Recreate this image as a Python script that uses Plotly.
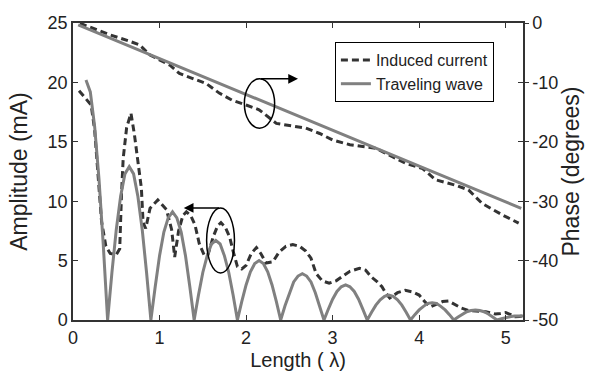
import plotly.graph_objects as go

# ---- data ----
tw_x = [0.15, 0.20, 0.25, 0.30, 0.35, 0.40, 0.45, 0.50, 0.55, 0.60,
        0.65, 0.70, 0.75, 0.80, 0.85, 0.90, 0.95, 1.00, 1.05, 1.10,
        1.15, 1.20, 1.25, 1.30, 1.35, 1.40, 1.45, 1.50, 1.55, 1.60,
        1.65, 1.70, 1.75, 1.80, 1.85, 1.90, 1.95, 2.00, 2.05, 2.10,
        2.15, 2.20, 2.25, 2.30, 2.35, 2.40, 2.45, 2.50, 2.55, 2.60,
        2.65, 2.70, 2.75, 2.80, 2.85, 2.90, 2.95, 3.00, 3.05, 3.10,
        3.15, 3.20, 3.25, 3.30, 3.35, 3.40, 3.45, 3.50, 3.55, 3.60,
        3.65, 3.70, 3.75, 3.80, 3.85, 3.90, 3.95, 4.00, 4.05, 4.10,
        4.15, 4.20, 4.25, 4.30, 4.35, 4.40, 4.45, 4.50, 4.55, 4.60,
        4.65, 4.70, 4.75, 4.80, 4.85, 4.90, 4.95, 5.00, 5.05, 5.10,
        5.15, 5.20]
tw_amp = [20.2, 19.2, 16.3, 11.9, 6.3, 0.0, 4.0, 7.6, 10.4, 12.3,
          12.9, 12.3, 10.4, 7.6, 4.0, 0.0, 2.8, 5.4, 7.4, 8.6,
          9.1, 8.6, 7.4, 5.4, 2.8, 0.0, 2.1, 4.0, 5.4, 6.4,
          6.7, 6.4, 5.4, 4.0, 2.1, 0.0, 1.55, 2.95, 4.05, 4.75,
          5.0, 4.75, 4.05, 2.95, 1.55, 0.0, 1.2, 2.3, 3.2, 3.7,
          3.9, 3.7, 3.2, 2.3, 1.2, 0.0, 0.9, 1.75, 2.4, 2.8,
          2.95, 2.8, 2.4, 1.75, 0.9, 0.0, 0.65, 1.25, 1.7, 2.0,
          2.1, 2.0, 1.7, 1.25, 0.65, 0.0, 0.45, 0.85, 1.15, 1.4,
          1.45, 1.4, 1.15, 0.85, 0.45, 0.0, 0.25, 0.5, 0.7, 0.8,
          0.85, 0.8, 0.7, 0.5, 0.25, 0.0, 0.1, 0.2, 0.28, 0.33,
          0.35, 0.33]

ic_x = [0.07, 0.14, 0.21, 0.25, 0.29, 0.33, 0.38, 0.43, 0.50, 0.54,
        0.56, 0.58, 0.62, 0.67, 0.71, 0.75, 0.79, 0.81, 0.84, 0.89,
        0.98, 1.08, 1.14, 1.175, 1.22, 1.27, 1.31, 1.36, 1.41, 1.46,
        1.52, 1.56, 1.62, 1.67, 1.71, 1.76, 1.81, 1.85, 1.90, 1.95,
        2.00, 2.06, 2.12, 2.17, 2.23, 2.31, 2.38, 2.46, 2.54, 2.62,
        2.69, 2.75, 2.81, 2.88, 2.96, 3.04, 3.11, 3.20, 3.31, 3.38,
        3.45, 3.52, 3.57, 3.62, 3.66, 3.75, 3.84, 3.93, 4.00, 4.07,
        4.13, 4.20, 4.27, 4.34, 4.42, 4.49, 4.57, 4.67, 4.77, 4.83,
        4.88, 4.94, 5.00, 5.06, 5.11, 5.16, 5.20]
ic_amp = [19.3, 18.7, 18.1, 16.0, 12.3, 8.3, 6.2, 5.6, 5.5, 6.0,
          10.5, 13.6, 16.2, 17.4, 15.6, 13.3, 11.1, 8.2, 7.7, 9.4,
          10.1, 9.3, 7.6, 5.3, 7.5, 8.8, 9.1, 8.8, 8.0, 6.4,
          5.4, 5.5, 7.0, 7.9, 8.2, 7.8, 7.0, 5.8, 4.5, 4.3,
          4.6, 5.6, 6.1, 5.6, 4.8, 4.9, 5.7, 6.2, 6.35, 6.2,
          5.8, 5.2, 3.9, 3.3, 3.1, 3.3, 3.65, 4.1, 4.35, 4.2,
          3.6, 3.2, 2.8, 2.2, 1.85, 2.3, 2.5, 2.35, 2.1, 1.5,
          1.1, 1.3, 1.55, 1.6, 1.3, 1.0, 0.8, 0.75, 0.7, 0.6,
          0.5, 0.55, 0.62, 0.45, 0.28, 0.3, 0.35]

tw_ph_x = [0.06, 1.0, 2.0, 3.0, 4.0, 5.0, 5.18]
tw_phase = [-0.3, -6.0, -12.0, -18.0, -24.1, -30.1, -31.2]

ic_ph_x = [0.08, 0.23, 0.43, 0.66, 0.77, 0.89, 1.00, 1.12, 1.23, 1.38,
           1.54, 1.69, 1.84, 2.00, 2.15, 2.35, 2.50, 2.69, 2.85, 3.00,
           3.20, 3.50, 3.69, 3.84, 4.04, 4.19, 4.42, 4.57, 4.73, 4.96,
           5.15]
ic_phase = [-0.05, -0.9, -2.0, -3.1, -3.7, -5.4, -6.2, -7.1, -8.5, -9.3,
            -10.2, -11.8, -13.0, -13.8, -14.6, -16.9, -17.3, -17.7, -18.6, -19.7,
            -20.5, -21.1, -22.5, -23.6, -24.5, -26.4, -27.3, -28.1, -30.4, -32.3,
            -33.7]

x_ticks = [0, 1, 2, 3, 4, 5]
amp_ticks = [0, 5, 10, 15, 20, 25]
phase_ticks = [0, -10, -20, -30, -40, -50]
phase_labels = ["0", "-10", "-20", "-30", "-40", "-50"]

DARK = "#333333"
GRAY = "#808080"
FONT = "Liberation Sans, Arial, sans-serif"

fig = go.Figure()
fig.add_trace(go.Scatter(x=ic_x, y=ic_amp, mode="lines", name="Induced current",
                         line=dict(color=DARK, width=3, dash="7px,4px")))
fig.add_trace(go.Scatter(x=tw_x, y=tw_amp, mode="lines", name="Traveling wave",
                         line=dict(color=GRAY, width=3)))
fig.add_trace(go.Scatter(x=ic_ph_x, y=ic_phase, mode="lines", name="Induced current",
                         showlegend=False, yaxis="y2",
                         line=dict(color=DARK, width=3, dash="7px,4px")))
fig.add_trace(go.Scatter(x=tw_ph_x, y=tw_phase, mode="lines", name="Traveling wave",
                         showlegend=False, yaxis="y2",
                         line=dict(color=GRAY, width=3)))

# ellipses and arrows (annotation marks)
fig.add_shape(type="circle", xref="x", yref="y2", x0=1.98, x1=2.33, y0=-17.7, y1=-9.4,
              line=dict(color="black", width=1.5))
fig.add_shape(type="circle", xref="x", yref="y", x0=1.544, x1=1.866, y0=3.95, y1=9.43,
              line=dict(color="black", width=1.5))
fig.add_annotation(x=2.60, y=-9.4, xref="x", yref="y2", ax=2.154, ay=-9.4,
                   axref="x", ayref="y2", text="", showarrow=True,
                   arrowhead=2, arrowsize=1.3, arrowwidth=1.5, arrowcolor="black")
fig.add_annotation(x=1.28, y=9.43, xref="x", yref="y", ax=1.705, ay=9.43,
                   axref="x", ayref="y", text="", showarrow=True,
                   arrowhead=2, arrowsize=1.3, arrowwidth=1.5, arrowcolor="black")

axis_common = dict(showline=True, linecolor=DARK, linewidth=1.5, ticks="inside",
                   ticklen=5, tickcolor=DARK, tickwidth=1.2, showgrid=False,
                   zeroline=False, automargin=False,
                   tickfont=dict(size=18, color="#222222", family=FONT))

fig.update_layout(
    width=590, height=371,
    margin=dict(l=73, r=67, t=23, b=51),
    paper_bgcolor="white", plot_bgcolor="white",
    font=dict(family=FONT, color="#222222"),
    xaxis=dict(range=[0, 5.2], tickvals=x_ticks, mirror="ticks",
               ticklabelstandoff=1,
               title=dict(text="Length ( λ)", font=dict(size=20), standoff=7),
               **axis_common),
    yaxis=dict(range=[0, 25], tickvals=amp_ticks, mirror="ticks",
               title=dict(text="Amplitude (mA)", font=dict(size=23), standoff=14),
               **axis_common),
    yaxis2=dict(range=[-50, 0], tickvals=phase_ticks, ticktext=phase_labels,
                overlaying="y", side="right", anchor="x",
                title=dict(text="Phase (degrees)", font=dict(size=23), standoff=4),
                **{**axis_common, "ticks": "outside", "ticklen": 4}),
    showlegend=True,
    legend=dict(x=0.582, y=0.936, xanchor="left", yanchor="top",
                bgcolor="white", bordercolor="black", borderwidth=1,
                font=dict(size=16, color="#222222", family=FONT),
                tracegroupgap=0, itemwidth=30),
)

fig.write_html("out.html")
